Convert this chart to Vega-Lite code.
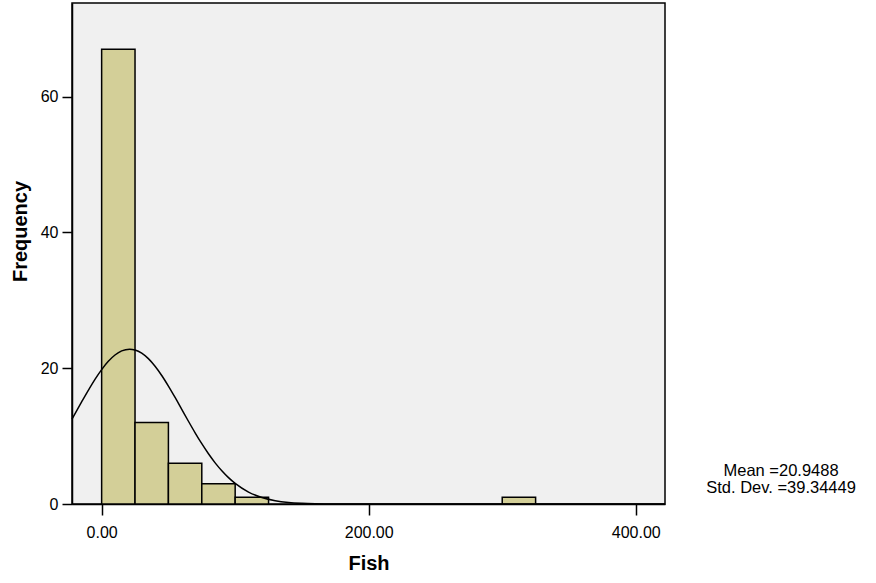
{
  "$schema": "https://vega.github.io/schema/vega-lite/v6.json",
  "width": 593,
  "height": 501,
  "autosize": {"type": "none"},
  "padding": {"left": 72, "top": 3, "right": 211, "bottom": 79},
  "background": "white",
  "config": {
    "view": {"fill": "#F0F0F0", "stroke": "black", "strokeWidth": 1.5},
    "font": "Liberation Sans",
    "axis": {
      "domainColor": "black", "domainWidth": 1.5, "tickColor": "black", "tickWidth": 1.5,
      "labelColor": "black", "labelFont": "Liberation Sans", "labelFontSize": 16,
      "titleFont": "Liberation Sans", "titleFontSize": 20, "titleFontWeight": "bold", "titleColor": "black",
      "grid": false, "tickSize": 10
    }
  },
  "datasets": {
    "bins": [
      {"bin_start": 0, "bin_end": 25, "count": 67},
      {"bin_start": 25, "bin_end": 50, "count": 12},
      {"bin_start": 50, "bin_end": 75, "count": 6},
      {"bin_start": 75, "bin_end": 100, "count": 3},
      {"bin_start": 100, "bin_end": 125, "count": 1},
      {"bin_start": 300, "bin_end": 325, "count": 1}
    ],
    "curve": [
      {"x": -22.2, "y": 12.52}, {"x": -15, "y": 15.03}, {"x": -10, "y": 16.74}, {"x": -5, "y": 18.36},
      {"x": 0, "y": 19.80}, {"x": 5, "y": 21.02}, {"x": 10, "y": 21.95}, {"x": 15, "y": 22.56},
      {"x": 20.95, "y": 22.81}, {"x": 25, "y": 22.69}, {"x": 30, "y": 22.22}, {"x": 35, "y": 21.41},
      {"x": 40, "y": 20.29}, {"x": 45, "y": 18.93}, {"x": 50, "y": 17.37}, {"x": 55, "y": 15.69},
      {"x": 60, "y": 13.94}, {"x": 65, "y": 12.19}, {"x": 70, "y": 10.49}, {"x": 75, "y": 8.88},
      {"x": 80, "y": 7.40}, {"x": 85, "y": 6.06}, {"x": 90, "y": 4.89}, {"x": 95, "y": 3.88},
      {"x": 100, "y": 3.03}, {"x": 110, "y": 1.76}, {"x": 120, "y": 0.96}, {"x": 130, "y": 0.49},
      {"x": 140, "y": 0.23}, {"x": 150, "y": 0.105}, {"x": 160, "y": 0.044}, {"x": 175, "y": 0.011},
      {"x": 200, "y": 0.001}, {"x": 250, "y": 0}, {"x": 300, "y": 0}, {"x": 350, "y": 0}, {"x": 421.9, "y": 0}
    ],
    "stats": [
      {"x": 508.8, "y": 4.1, "label": "Mean =20.9488\nStd. Dev. =39.34449"}
    ]
  },
  "layer": [
    {
      "data": {"name": "bins"},
      "mark": {"type": "bar", "fill": "#D3CF98", "stroke": "black", "strokeWidth": 1.5},
      "encoding": {
        "x": {"field": "bin_start", "type": "quantitative",
              "scale": {"domain": [-22.2, 421.9], "nice": false, "zero": false},
              "axis": {"values": [0, 200, 400], "format": ".2f", "title": "Fish", "labelPadding": 9, "titlePadding": 13, "tickSize": 11}},
        "x2": {"field": "bin_end"},
        "y": {"field": "count", "type": "quantitative",
              "scale": {"domain": [0, 73.8], "nice": false},
              "axis": {"values": [0, 20, 40, 60], "title": "Frequency", "labelPadding": 4, "titlePadding": 10, "titleY": 228}},
        "y2": {"datum": 0}
      }
    },
    {
      "data": {"name": "curve"},
      "mark": {"type": "line", "color": "black", "strokeWidth": 1.5, "interpolate": "monotone"},
      "encoding": {
        "x": {"field": "x", "type": "quantitative"},
        "y": {"field": "y", "type": "quantitative"}
      }
    },
    {
      "data": {"name": "stats"},
      "mark": {"type": "text", "align": "center", "baseline": "alphabetic", "fontSize": 16.5, "lineBreak": "\n", "clip": false, "color": "black", "font": "Liberation Sans", "lineHeight": 17},
      "encoding": {
        "x": {"field": "x", "type": "quantitative"},
        "y": {"field": "y", "type": "quantitative"},
        "text": {"field": "label"}
      }
    }
  ]
}
